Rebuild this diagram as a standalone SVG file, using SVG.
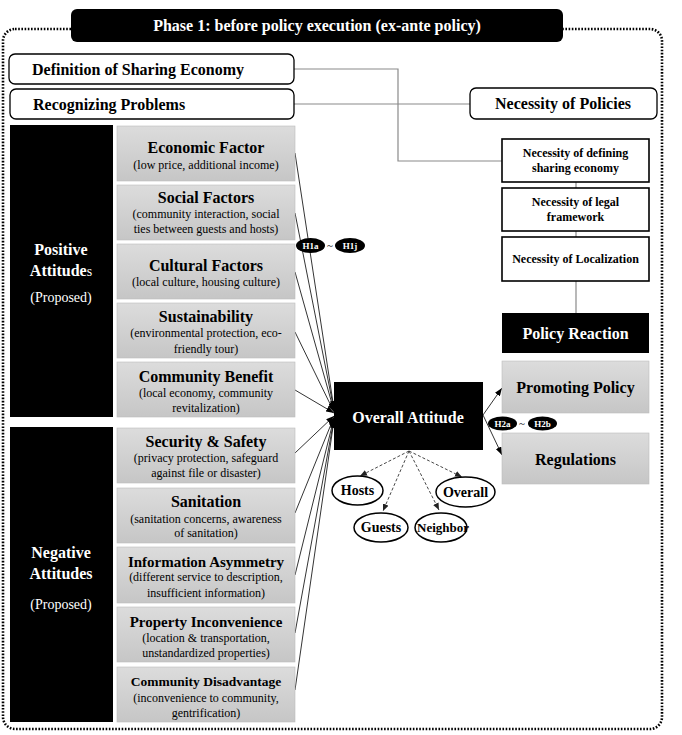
<svg xmlns="http://www.w3.org/2000/svg" width="682" height="735" viewBox="0 0 682 735">
<defs>
<linearGradient id="g" x1="0" y1="0" x2="0" y2="1">
<stop offset="0" stop-color="#dcdcdc"/>
<stop offset="1" stop-color="#c6c6c6"/>
</linearGradient>
<marker id="ar" markerUnits="userSpaceOnUse" markerWidth="8" markerHeight="6" refX="8" refY="3" orient="auto">
<path d="M0,0 L8,3 L0,6 z" fill="#000"/>
</marker>
<marker id="ad" markerUnits="userSpaceOnUse" markerWidth="7" markerHeight="6" refX="7" refY="3" orient="auto">
<path d="M0,0 L7,3 L0,6 z" fill="#222"/>
</marker>
</defs>
<style>
text{font-family:"Liberation Serif","Times New Roman",serif;text-anchor:middle}
.b{font-weight:bold}
.w{fill:#fff}
.gray{fill:url(#g);stroke:#bdbdbd;stroke-width:0.6}
.blk{fill:#000}
.rb{fill:#fff;stroke:#000;stroke-width:1.3}
.nb{fill:#fff;stroke:#000;stroke-width:1.6}
.t16{font-size:16px}
.t15{font-size:15px}
.t12{font-size:12px}
.t11{font-size:12px}
.t13{font-size:14px}
.lbl{font-size:9px;font-weight:bold;fill:#fff}
.ln{stroke:#000;stroke-width:0.8;fill:none}
.gl{stroke:#8a8a8a;stroke-width:1.2;fill:none}
.dl{stroke:#333;stroke-width:0.9;stroke-dasharray:3 2;fill:none}
.ov{fill:#fff;stroke:#000;stroke-width:1.5}
</style>

<rect x="3" y="29" width="659" height="700" rx="12" fill="none" stroke="#000" stroke-width="2.6" stroke-dasharray="1.6 1.6"/>

<g id="title">
<rect x="71" y="9" width="492" height="33" rx="6" class="blk"/>
<text x="317" y="31" class="b w t16">Phase 1: before policy  execution (ex-ante policy)</text>
</g>

<g id="connectors">
<path class="gl" d="M294,69 H398 V161 H502"/>
<path class="gl" d="M294,104 H470"/>
<path class="gl" d="M576,182 V188 M576,231 V237 M576,281 V313"/>
<path class="ln" d="M295,153 L334,409" marker-end="url(#ar)"/>
<path class="ln" d="M295,213 L334,410" marker-end="url(#ar)"/>
<path class="ln" d="M295,272 L334,411" marker-end="url(#ar)"/>
<path class="ln" d="M295,332 L334,412" marker-end="url(#ar)"/>
<path class="ln" d="M295,390 L334,413" marker-end="url(#ar)"/>
<path class="ln" d="M295,453 L334,416" marker-end="url(#ar)"/>
<path class="ln" d="M295,513 L334,417" marker-end="url(#ar)"/>
<path class="ln" d="M295,575 L334,418" marker-end="url(#ar)"/>
<path class="ln" d="M295,633 L334,419" marker-end="url(#ar)"/>
<path class="ln" d="M295,690 L334,420" marker-end="url(#ar)"/>
<path class="ln" d="M483,415 L502,388" marker-end="url(#ar)"/>
<path class="ln" d="M483,415 L502,455" marker-end="url(#ar)"/>
<path class="dl" d="M409,451 L360,476" marker-end="url(#ad)"/>
<path class="dl" d="M409,451 L383,511" marker-end="url(#ad)"/>
<path class="dl" d="M409,451 L439,510" marker-end="url(#ad)"/>
<path class="dl" d="M409,451 L462,477" marker-end="url(#ad)"/>
</g>

<g id="definition">
<rect x="9" y="54" width="285" height="30" rx="6" class="rb"/>
<text x="32" y="75" class="b t16" style="text-anchor:start">Definition  of Sharing Economy</text>
</g>
<g id="recognizing">
<rect x="10" y="89" width="284" height="30" rx="6" class="rb"/>
<text x="33" y="110" class="b t16" style="text-anchor:start">Recognizing  Problems</text>
</g>
<g id="necessity-policies">
<rect x="470" y="88" width="187" height="31" rx="6" class="rb"/>
<text x="563" y="109" class="b t16">Necessity of Policies</text>
</g>

<g id="positive">
<rect x="10" y="125" width="103" height="292" class="blk"/>
<text x="61" y="255" class="b w t16">Positive</text>
<text x="61" y="276" class="b w t16">Attitude<tspan font-weight="normal" font-size="14">s</tspan></text>
<text x="61" y="302" class="w" font-size="14">(Proposed)</text>
</g>
<g id="negative">
<rect x="10" y="427" width="103" height="295" class="blk"/>
<text x="61" y="558" class="b w t16">Negative</text>
<text x="61" y="579" class="b w t16">Attitudes</text>
<text x="61" y="609" class="w" font-size="14">(Proposed)</text>
</g>

<g id="economic">
<rect x="117" y="126" width="178" height="55" class="gray"/>
<text x="206" y="153" class="b t16">Economic Factor</text>
<text x="206" y="169" class="t12">(low price, additional income)</text>
</g>
<g id="social">
<rect x="117" y="185" width="178" height="55" class="gray"/>
<text x="206" y="203" class="b t16">Social Factors</text>
<text x="206" y="218" class="t12">(community interaction, social</text>
<text x="206" y="233" class="t12">ties between guests and hosts)</text>
</g>
<g id="cultural">
<rect x="117" y="244" width="178" height="55" class="gray"/>
<text x="206" y="271" class="b t16">Cultural Factors</text>
<text x="206" y="286" class="t12">(local culture, housing culture)</text>
</g>
<g id="sustainability">
<rect x="117" y="303" width="178" height="55" class="gray"/>
<text x="206" y="322" class="b t16">Sustainability</text>
<text x="206" y="337" class="t12">(environmental protection, eco-</text>
<text x="206" y="353" class="t12">friendly tour)</text>
</g>
<g id="community-benefit">
<rect x="117" y="362" width="178" height="55" class="gray"/>
<text x="206" y="382" class="b t16">Community Benefit</text>
<text x="206" y="397" class="t12">(local economy, community</text>
<text x="206" y="412" class="t12">revitalization)</text>
</g>

<g id="security">
<rect x="117" y="428" width="178" height="55" class="gray"/>
<text x="206" y="447" class="b t16">Security &amp; Safety</text>
<text x="206" y="462" class="t12">(privacy protection, safeguard</text>
<text x="206" y="477" class="t12">against file or disaster)</text>
</g>
<g id="sanitation">
<rect x="117" y="488" width="178" height="55" class="gray"/>
<text x="206" y="507" class="b t16">Sanitation</text>
<text x="206" y="523" class="t12">(sanitation concerns, awareness</text>
<text x="206" y="537" class="t12">of sanitation)</text>
</g>
<g id="information">
<rect x="117" y="547" width="178" height="56" class="gray"/>
<text x="206" y="567" class="b t15">Information Asymmetry</text>
<text x="206" y="581" class="t12">(different service to description,</text>
<text x="206" y="597" class="t12">insufficient information)</text>
</g>
<g id="property">
<rect x="117" y="607" width="178" height="55" class="gray"/>
<text x="206" y="627" class="b t15">Property Inconvenience</text>
<text x="206" y="642" class="t12">(location &amp; transportation,</text>
<text x="206" y="657" class="t12">unstandardized properties)</text>
</g>
<g id="community-disadvantage">
<rect x="117" y="667" width="178" height="55" class="gray"/>
<text x="206" y="686" class="b" font-size="13.5">Community  Disadvantage</text>
<text x="206" y="702" class="t12">(inconvenience to community,</text>
<text x="206" y="717" class="t12">gentrification)</text>
</g>

<g id="h1">
<ellipse cx="310.5" cy="245.5" rx="14.5" ry="7.5" class="blk"/>
<text x="310.5" y="248.5" class="lbl">H1a</text>
<text x="330" y="249" font-size="11">~</text>
<ellipse cx="350" cy="245.5" rx="15" ry="7.5" class="blk"/>
<text x="350" y="248.5" class="lbl">H1j</text>
</g>

<g id="overall-attitude">
<rect x="334" y="382" width="149" height="68" class="blk"/>
<text x="408" y="423" class="b w t16">Overall Attitude</text>
</g>

<g id="hosts">
<ellipse cx="357.5" cy="490.5" rx="25.5" ry="14.5" class="ov"/>
<text x="357.5" y="495" class="b t13">Hosts</text>
</g>
<g id="guests">
<ellipse cx="381" cy="527.5" rx="27" ry="14.5" class="ov"/>
<text x="381" y="532" class="b t13">Guests</text>
</g>
<g id="neighbor">
<ellipse cx="441" cy="527.5" rx="26" ry="14.5" class="ov"/>
<text x="443" y="532" class="b" font-size="13">Neighbor</text>
</g>
<g id="overall">
<ellipse cx="465.5" cy="492" rx="29.5" ry="15" class="ov"/>
<text x="465.5" y="496.5" class="b t13">Overall</text>
</g>

<g id="h2">
<ellipse cx="502.5" cy="423.5" rx="14.5" ry="7" class="blk"/>
<text x="502.5" y="426.5" class="lbl">H2a</text>
<text x="522" y="427" font-size="11">~</text>
<ellipse cx="542.5" cy="423.5" rx="14.5" ry="7" class="blk"/>
<text x="542.5" y="426.5" class="lbl">H2b</text>
</g>

<g id="nec-defining">
<rect x="502" y="139" width="147" height="43" class="nb"/>
<text x="575.5" y="157" class="b t11">Necessity of defining</text>
<text x="575.5" y="172" class="b t11">sharing economy</text>
</g>
<g id="nec-legal">
<rect x="502" y="188" width="147" height="43" class="nb"/>
<text x="575.5" y="206" class="b t11">Necessity of legal</text>
<text x="575.5" y="221" class="b t11">framework</text>
</g>
<g id="nec-localization">
<rect x="502" y="237" width="147" height="44" class="nb"/>
<text x="575.5" y="263" class="b t11">Necessity of Localization</text>
</g>

<g id="policy-reaction">
<rect x="502" y="313" width="147" height="40" class="blk"/>
<text x="575.5" y="339" class="b w t16">Policy Reaction</text>
</g>
<g id="promoting">
<rect x="502" y="361" width="147" height="52" class="gray"/>
<text x="575.5" y="393" class="b t16">Promoting Policy</text>
</g>
<g id="regulations">
<rect x="502" y="433" width="147" height="51" class="gray"/>
<text x="575.5" y="465" class="b t16">Regulations</text>
</g>
</svg>
